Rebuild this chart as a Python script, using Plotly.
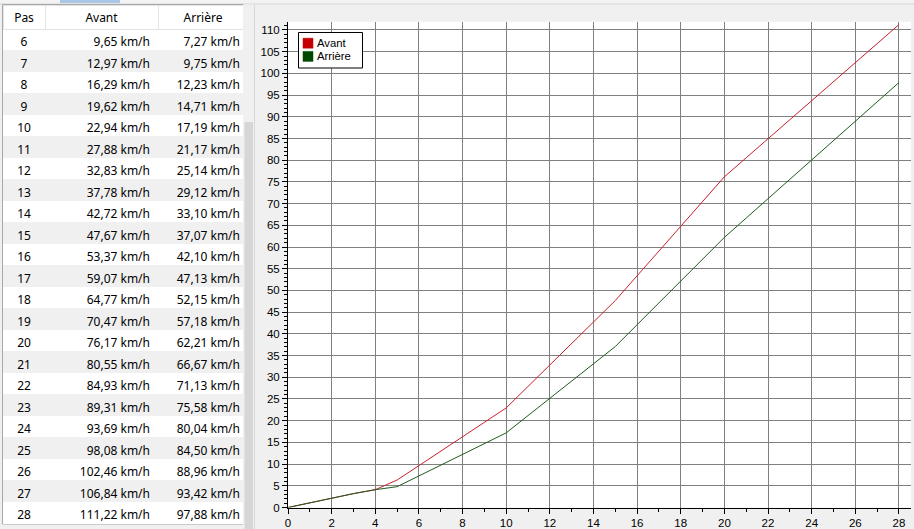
import plotly.graph_objects as go

# ---- data ----
pas = list(range(0, 29))
avant = [0, 1.1, 2.1, 3.2, 4.1, 6.33, 9.65, 12.97, 16.29, 19.62, 22.94, 27.88, 32.83,
         37.78, 42.72, 47.67, 53.37, 59.07, 64.77, 70.47, 76.17, 80.55, 84.93, 89.31,
         93.69, 98.08, 102.46, 106.84, 111.22]
arriere = [0, 1.1, 2.1, 3.2, 4.1, 4.79, 7.27, 9.75, 12.23, 14.71, 17.19, 21.17, 25.14,
           29.12, 33.10, 37.07, 42.10, 47.13, 52.15, 57.18, 62.21, 66.67, 71.13, 75.58,
           80.04, 84.50, 88.96, 93.42, 97.88]
series_names = ["Avant", "Arrière"]
table_headers = ["Pas", "Avant", "Arrière"]
first_visible_row = 6

W, H = 914, 529
LINE_COLORS = ["#c8202c", "#1f5a1f"]
LEGEND_COLORS = ["#c40000", "#004a00"]


def px(x):
    return x / W


def py(y):
    return 1 - y / H


def fmt(v):
    return f"{v:.2f}".replace(".", ",") + " km/h"


rows = pas[first_visible_row:]
col_pas = [str(p) for p in rows]
col_av = [fmt(avant[p]) for p in rows]
col_ar = [fmt(arriere[p]) for p in rows]
row_fill = ["#ffffff" if p % 2 == 0 else "#f0f0f0" for p in rows]

fig = go.Figure()

fig.add_trace(go.Table(
    domain=dict(x=[px(3), px(248)], y=[py(525), py(5)]),
    columnwidth=[42, 113, 90],
    header=dict(values=table_headers, fill_color="white",
                line=dict(color="#e3e3e3", width=1),
                font=dict(family="Noto Sans", size=12, color="black"),
                align="center", height=24),
    cells=dict(values=[col_pas, col_av, col_ar],
               fill_color=[row_fill] * 3,
               line=dict(color=[row_fill] * 3, width=1),
               font=dict(family="Noto Sans", size=12, color="black"),
               align=["center", "right", "right"], height=21.5),
))

for name, ys, col in zip(series_names, [avant, arriere], LINE_COLORS):
    fig.add_trace(go.Scatter(x=pas, y=ys, mode="lines", name=name,
                             line=dict(color=col, width=1)))

axis_font = dict(family="Liberation Sans", size=11.5, color="black")
fig.update_xaxes(domain=[px(288), px(910.7)], range=[0, 28.54], dtick=2, tick0=0,
                 automargin=False,
                 showgrid=True, gridcolor="#808080", gridwidth=1, zeroline=False,
                 showline=True, linecolor="black", linewidth=1,
                 ticks="outside", ticklen=5, tickcolor="black", tickfont=axis_font,
                 minor=dict(dtick=1, ticks="outside", ticklen=3, tickcolor="black", showgrid=False))
fig.update_yaxes(domain=[py(507.5), py(21.7)], range=[0, 111.9], dtick=5, tick0=0,
                 automargin=False,
                 showgrid=True, gridcolor="#808080", gridwidth=1, zeroline=False,
                 showline=True, linecolor="black", linewidth=1,
                 ticks="outside", ticklen=5, tickcolor="black", tickfont=axis_font,
                 minor=dict(dtick=1, ticks="outside", ticklen=3, tickcolor="black", showgrid=False))

shapes = [
    # top strip
    dict(type="rect", xref="paper", yref="paper", x0=0, x1=1, y0=py(4), y1=1,
         fillcolor="#f3f3f3", line=dict(width=0), layer="below"),
    dict(type="rect", xref="paper", yref="paper", x0=px(60), x1=px(120), y0=py(3), y1=1,
         fillcolor="#a9c6e8", line=dict(width=0), layer="below"),
    dict(type="line", xref="paper", yref="paper", x0=0, x1=1, y0=py(4), y1=py(4),
         line=dict(color="#d4d4d4", width=1), layer="below"),
    # table panel
    dict(type="rect", xref="paper", yref="paper", x0=px(2.5), x1=px(243), y0=py(524), y1=py(4.5),
         fillcolor="white", line=dict(color="#a8a8a8", width=1), layer="below"),
    # scrollbar
    dict(type="rect", xref="paper", yref="paper", x0=px(243), x1=px(253.5), y0=0, y1=py(4.5),
         fillcolor="#f0f0f0", line=dict(width=0), layer="above"),
    dict(type="rect", xref="paper", yref="paper", x0=px(244.5), x1=px(253), y0=0, y1=py(122),
         fillcolor="#d6d6d6", line=dict(width=0), layer="above"),
    dict(type="line", xref="paper", yref="paper", x0=px(254.5), x1=px(254.5), y0=0, y1=py(4.5),
         line=dict(color="#d8d8d8", width=1), layer="above"),
    # legend box
    dict(type="rect", xref="paper", yref="paper", x0=px(298.5), x1=px(362.5),
         y0=py(68), y1=py(32.5), fillcolor="white", line=dict(color="black", width=1),
         layer="above"),
]
annotations = []
legend_rows_y = [43.2, 56.4]
for name, col, yc in zip(series_names, LEGEND_COLORS, legend_rows_y):
    shapes.append(dict(type="rect", xref="paper", yref="paper", x0=px(303), x1=px(313),
                       y0=py(yc + 5), y1=py(yc - 5), fillcolor=col,
                       line=dict(color=col, width=0.5), layer="above"))
    annotations.append(dict(xref="paper", yref="paper", x=px(317), y=py(yc), text=name,
                            showarrow=False, xanchor="left", yanchor="middle",
                            borderpad=0, borderwidth=0,
                            font=dict(family="Liberation Sans", size=11.3, color="black")))

fig.update_layout(
    width=W, height=H, margin=dict(l=0, r=0, t=0, b=0),
    paper_bgcolor="#f0f0f0", plot_bgcolor="white",
    shapes=shapes, annotations=annotations, showlegend=False,
)

fig.write_html("out.html", config={"displayModeBar": False},
               post_script="document.body.style.margin='0';document.body.style.overflow='hidden';")
